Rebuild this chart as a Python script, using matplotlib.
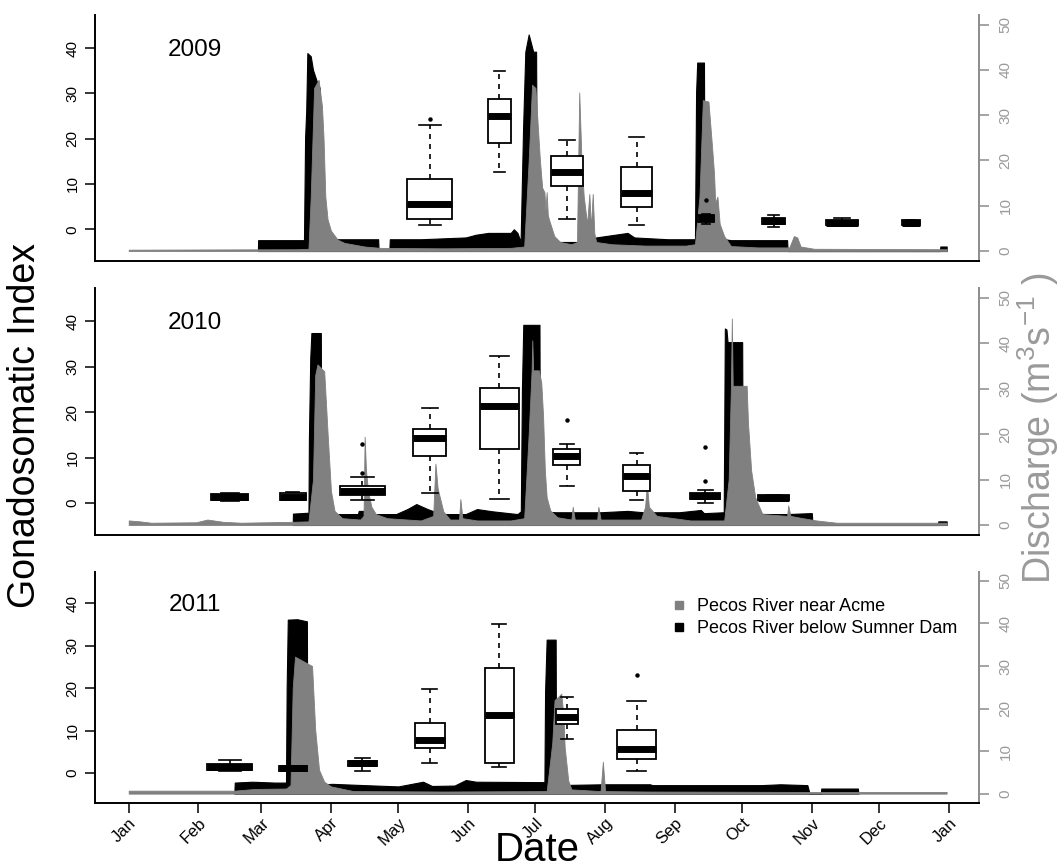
import matplotlib
matplotlib.use("Agg")
import matplotlib.pyplot as plt
from matplotlib.lines import Line2D

plt.rcParams['font.family'] = ['Liberation Sans', 'DejaVu Sans']
plt.rcParams['mathtext.fontset'] = 'custom'
plt.rcParams['mathtext.rm'] = 'Liberation Sans'

# ---------------- data ----------------
years = ['2009', '2010', '2011']
month_labels = ['Jan', 'Feb', 'Mar', 'Apr', 'May', 'Jun', 'Jul', 'Aug', 'Sep', 'Oct', 'Nov', 'Dec', 'Jan']
month_start_days = [0, 31, 59, 90, 120, 151, 181, 212, 243, 273, 304, 334, 365]

# Discharge (m3/s), day of year -> value
acme_2009_day = [0, 75, 80, 81, 82.5, 84.5, 86, 86.7, 87.5, 88.5, 90, 93, 96, 105, 112, 140, 170, 176, 178, 179.5,
                 181, 182, 183, 184, 185, 185.5, 186, 186.5, 187, 189.4, 192, 197, 199.5, 200.5, 201.5, 202.5, 204,
                 205, 205.7, 206.5, 207.2, 208, 215, 230, 248, 252, 254, 255.5, 258, 259.6, 260.5, 261, 262, 263,
                 265, 268, 280, 294, 296, 297.5, 299, 305, 364]
acme_2009_q = [0.3, 0.4, 0.5, 12, 36, 37.8, 32, 25, 12, 7, 4.5, 2.5, 1.8, 1.0, 0.7, 0.6, 0.7, 1.0, 20, 36.7,
               36, 28, 20, 14, 13, 9, 13, 8, 7, 3.3, 2, 1.5, 2, 35, 20, 12, 6,
               12.6, 5, 12.6, 4, 2, 1.5, 1.2, 1.2, 1.5, 12, 33.3, 33, 23, 17, 10.7, 12, 6,
               3.3, 1.1, 0.8, 0.8, 3.3, 3.0, 1.0, 0.5, 0.4]
sumner_2009_day = [57.5, 57.6, 78, 78.5, 79, 79.5, 81, 82, 84, 85, 85.5, 111, 111.2, 116, 116.2, 130, 140, 150,
                   154.5, 160, 170, 171.4, 173, 174.4, 175.5, 176.5, 178, 180, 181.3, 181.5, 185, 190, 200, 208,
                   222, 225, 240, 252, 252.5, 253, 256, 256.3, 260, 268, 293, 293.2, 361, 361.2, 364]
sumner_2009_q = [0, 2.4, 2.4, 25, 31, 43.7, 43, 40, 37, 36, 2.6, 2.6, 0.3, 0.3, 2.6, 2.6, 2.8, 3.0,
                 3.6, 4.0, 4.0, 4.8, 4.0, 2.0, 27, 44, 47.8, 44, 44, 19.6, 5, 2.0, 2.0, 3.0,
                 4.0, 3.0, 2.6, 2.6, 35, 41.6, 41.6, 7.5, 3, 2.4, 2.4, 0, 0, 1, 1]

acme_2010_day = [0, 5, 10, 30, 35, 42, 50, 73, 80, 82, 83, 84, 87, 88.6, 90, 91.6, 95, 103, 104.5, 105, 105.6,
                 106.5, 108, 110, 115, 130, 135.5, 136.5, 137.5, 138.5, 140, 143, 147, 147.6, 148.5, 155, 170,
                 176, 178, 179.3, 179.6, 180, 182.5, 183.6, 184.4, 185.2, 186, 187.6, 190.8, 197, 197.6, 198.5,
                 208.5, 209, 210, 228, 229.8, 230.6, 231.5, 235, 250, 265, 267, 268, 268.4, 268.8, 275, 275.6,
                 277, 278.8, 282, 293, 293.5, 294.5, 300, 306, 315, 364]
acme_2010_q = [1.0, 0.8, 0.5, 0.6, 1.2, 0.7, 0.5, 0.7, 0.8, 10, 33, 35.3, 33.8, 19.4, 7.5, 3.1, 1.5, 1.2, 2, 19.4, 12,
               7.5, 4, 2.4, 1.5, 1.0, 2, 13.5, 8, 6, 3, 1.2, 1.2, 5.7, 1.5, 1.0, 1.0,
               1.5, 20, 34, 40.6, 34, 34, 31.3, 24, 12, 6.1, 3.2, 1.7, 1.2, 4, 1.2,
               1.2, 4, 1.2, 1.2, 4, 9, 4, 2, 1.0, 1.0, 10, 30.6, 45.4, 30.6, 30.6, 22.4,
               12, 6.1, 2.4, 2, 4.3, 2, 1.5, 1.0, 0.5, 0.5]
sumner_2010_day = [73, 73.1, 80, 80.2, 80.8, 81.3, 85.5, 85.7, 91.6, 102, 102.4, 105, 105.4, 119, 124, 128, 133,
                   139, 150, 155, 162, 173, 174.5, 175, 175.6, 182.8, 183, 190, 210, 222, 229, 245, 254.6, 256,
                   264.8, 265.3, 266, 266.5, 273, 273.3, 286, 293, 303, 304, 304.3, 360, 360.3, 364]
sumner_2010_q = [0, 2.5, 2.7, 19, 36.8, 42.2, 42.2, 3, 2.4, 2.4, 3.1, 3.1, 2.4, 2.4, 3.5, 4.6, 3.5,
                 2.4, 2.4, 3.5, 3.0, 2.4, 3, 30, 44, 44, 3, 2.8, 2.8, 3.1, 2.8, 2.8, 3.3, 2.6,
                 2.8, 43.2, 43, 40.2, 40.2, 2.5, 2.4, 2.4, 2.6, 2.6, 0, 0, 0.8, 0.8]

acme_2011_day = [0, 47, 56, 70, 72, 73, 74, 81.6, 83, 84.7, 87, 90, 100, 140, 186, 188.5, 189.5, 191, 192.5,
                 193.5, 194, 195.6, 197, 210, 211, 212, 230, 300, 364]
acme_2011_q = [0.7, 0.7, 1.1, 1.2, 2, 25, 32.2, 30, 15, 5.6, 2.8, 1.7, 0.6, 0.5, 0.6, 12, 22, 22.7, 23.5,
               18, 11, 3.1, 1.0, 0.6, 7.5, 0.6, 0.5, 0.4, 0.4]
sumner_2011_day = [47, 47.2, 55, 65, 70, 70.3, 70.8, 75, 79.3, 79.5, 90.6, 105, 120, 131, 135, 145, 150, 154.6,
                   185, 185.3, 186, 190, 190.2, 211, 232, 233, 281.6, 290, 302, 303, 308, 308.2, 324.5, 324.7]
sumner_2011_q = [0, 2.6, 2.8, 2.6, 2.6, 25, 40.9, 41, 40.5, 2, 2.3, 2.0, 1.7, 2.8, 1.8, 1.9, 3.2, 2.8,
                 2.7, 24, 36.2, 36.2, 2, 2.2, 2.2, 2.0, 2.0, 2.2, 2.0, 0, 0, 1.2, 1.2, 0]

# Gonadosomatic index box statistics (sampling day of year)
gsi_2009_day = [134, 165, 195, 226, 257, 287, 317.5, 348]
gsi_2009_whislo = [1.0, 12.6, 2.2, 1.0, 1.2, 0.6, 0.8, 0.8]
gsi_2009_q1 = [2.2, 19.0, 9.5, 5.0, 1.5, 1.1, 0.9, 0.9]
gsi_2009_med = [5.5, 25.0, 12.6, 7.9, 2.4, 1.9, 1.4, 1.4]
gsi_2009_q3 = [11.0, 28.7, 16.1, 13.7, 3.2, 2.6, 2.1, 2.0]
gsi_2009_whishi = [23.0, 35.0, 19.8, 20.4, 3.4, 3.1, 2.6, 2.1]
gsi_2009_fliers = [[24.3], [], [], [], [6.5], [], [], []]

gsi_2010_day = [45, 73, 104, 134, 165, 195, 226, 256.5, 287]
gsi_2010_whislo = [0.5, 0.6, 0.6, 2.2, 0.9, 3.8, 0.6, 0.0, 0.5]
gsi_2010_q1 = [0.67, 0.7, 1.85, 10.3, 11.8, 8.4, 2.7, 1.0, 0.6]
gsi_2010_med = [1.3, 1.4, 2.7, 14.4, 21.3, 10.4, 5.9, 1.6, 1.1]
gsi_2010_q3 = [2.0, 2.2, 3.8, 16.4, 25.3, 11.9, 8.4, 2.2, 1.7]
gsi_2010_whishi = [2.2, 2.4, 5.7, 21.0, 32.4, 13.1, 11.0, 2.8, 1.9]
gsi_2010_fliers = [[], [], [6.6, 13.1], [], [], [18.3], [], [4.9, 12.3], []]

gsi_2011_day = [45, 73, 104, 134, 165, 195, 226]
gsi_2011_whislo = [0.5, 0.5, 0.6, 2.5, 1.4, 8.1, 0.5]
gsi_2011_q1 = [0.8, 0.6, 1.6, 6.0, 2.5, 11.5, 3.4]
gsi_2011_med = [1.5, 1.2, 2.35, 7.7, 13.6, 13.1, 5.6]
gsi_2011_q3 = [2.1, 1.7, 2.9, 11.7, 24.8, 15.2, 10.1]
gsi_2011_whishi = [3.1, 1.8, 3.5, 19.8, 35.1, 17.9, 17.0]
gsi_2011_fliers = [[], [], [], [], [], [], [23.0]]

legend_labels = ['Pecos River near Acme', 'Pecos River below Sumner Dam']

# ---------------- style / layout ----------------
box_widths = {
    '2009': [20, 10, 14, 13.4, 7, 10, 14, 8],
    '2010': [16.5, 11.6, 20, 14.7, 17.4, 12, 12, 13.4, 14],
    '2011': [20, 12.5, 13, 13.4, 12.5, 10, 17.4],
}
W, H = 1063, 868
AX_L, AX_R = 95, 979
panel_px = [(15, 261), (288, 535), (572, 803)]
GSI_LIM = (-7.0, 47.3)
Q_OFFSET = 4.8
XLIM = (-15.0, 378.4)
ACME_COL = '#808080'
RAXIS_COL = '#8c8c8c'
RLABEL_COL = '#9a9a9a'

series = {
    '2009': (acme_2009_day, acme_2009_q, sumner_2009_day, sumner_2009_q,
             gsi_2009_day, gsi_2009_whislo, gsi_2009_q1, gsi_2009_med, gsi_2009_q3, gsi_2009_whishi, gsi_2009_fliers),
    '2010': (acme_2010_day, acme_2010_q, sumner_2010_day, sumner_2010_q,
             gsi_2010_day, gsi_2010_whislo, gsi_2010_q1, gsi_2010_med, gsi_2010_q3, gsi_2010_whishi, gsi_2010_fliers),
    '2011': (acme_2011_day, acme_2011_q, sumner_2011_day, sumner_2011_q,
             gsi_2011_day, gsi_2011_whislo, gsi_2011_q1, gsi_2011_med, gsi_2011_q3, gsi_2011_whishi, gsi_2011_fliers),
}

fig = plt.figure(figsize=(W / 100, H / 100), dpi=100)

for i, yr in enumerate(years):
    top, bot = panel_px[i]
    ax = fig.add_axes([AX_L / W, 1 - bot / H, (AX_R - AX_L) / W, (bot - top) / H])
    ax2 = ax.twinx()
    ax.set_zorder(ax2.get_zorder() + 1)
    ax.patch.set_visible(False)

    (ad, aq, sd, sq, gd, wlo, q1, med, q3, whi, fl) = series[yr]

    # discharge: Sumner first, Acme over it
    ax2.fill_between(sd, 0, sq, color='black', lw=0.8, edgecolor='black')
    ax2.fill_between(ad, 0, aq, color=ACME_COL, lw=0.6, edgecolor=ACME_COL)

    stats = []
    for k in range(len(gd)):
        stats.append(dict(med=med[k], q1=q1[k], q3=q3[k], whislo=wlo[k], whishi=whi[k], fliers=fl[k]))
    ax.bxp(stats, positions=gd, widths=box_widths[yr], patch_artist=True, manage_ticks=False,
           boxprops=dict(facecolor='white', edgecolor='black', linewidth=1.3),
           medianprops=dict(color='black', linewidth=5, solid_capstyle='butt'),
           whiskerprops=dict(color='black', linewidth=1.2, linestyle=(0, (3, 3))),
           capprops=dict(color='black', linewidth=1.2),
           flierprops=dict(marker='o', markersize=2.2, markerfacecolor='black', markeredgecolor='black'))

    ax.set_xlim(*XLIM)
    ax.set_ylim(*GSI_LIM)
    ax2.set_ylim(GSI_LIM[0] + Q_OFFSET, GSI_LIM[1] + Q_OFFSET)

    for s in ['top', 'right']:
        ax.spines[s].set_visible(False)
    for s in ['top', 'left', 'bottom']:
        ax2.spines[s].set_visible(False)
    ax.spines['left'].set_linewidth(1.4)
    ax.spines['bottom'].set_linewidth(1.4)
    ax2.spines['right'].set_color(RAXIS_COL)
    ax2.spines['right'].set_linewidth(1.4)

    ax.set_yticks([0, 10, 20, 30, 40])
    ax.tick_params(axis='y', direction='out', length=7, width=1.1, labelsize=11, pad=4, labelrotation=90)
    for lab in ax.get_yticklabels():
        lab.set_va('center')
    ax2.set_yticks([0, 10, 20, 30, 40, 50])
    ax2.tick_params(axis='y', direction='out', length=7, width=1.1, labelsize=11, pad=7,
                    labelrotation=90, color=RAXIS_COL, labelcolor=RLABEL_COL)
    for lab in ax2.get_yticklabels():
        lab.set_va('center')

    if i < 2:
        ax.set_xticks([])
    else:
        ax.set_xticks(month_start_days)
        ax.set_xticklabels(month_labels, rotation=45, ha='right', va='top', rotation_mode='anchor', fontsize=12)
        ax.tick_params(axis='x', direction='out', length=7, width=1.1, pad=2)

    ax.text(29.5, 39.5, yr, fontsize=17.5, ha='center', va='center')

    if i == 2:
        handles = [Line2D([], [], ls='', marker='s', ms=5.5, color=ACME_COL),
                   Line2D([], [], ls='', marker='s', ms=5.5, color='black')]
        ax.legend(handles, legend_labels, frameon=False, fontsize=13, loc='upper left',
                  bbox_to_anchor=(672 / W, 1 - 598 / H), bbox_transform=fig.transFigure,
                  handlelength=0.8, handletextpad=0.6, labelspacing=0.3, borderaxespad=0, borderpad=0)

fig.text(25 / W, 1 - 425 / H, 'Gonadosomatic Index', rotation=90, fontsize=27, ha='center', va='center')
fig.text(1038 / W, 1 - 428 / H, r'Discharge (m$^{3}$s$^{-1}$ )', rotation=90, fontsize=27,
         color=RLABEL_COL, ha='center', va='center')
fig.text(537 / W, 1 - 850 / H, 'Date', fontsize=29, ha='center', va='center')

fig.savefig('out.png', dpi=100, facecolor='white')
